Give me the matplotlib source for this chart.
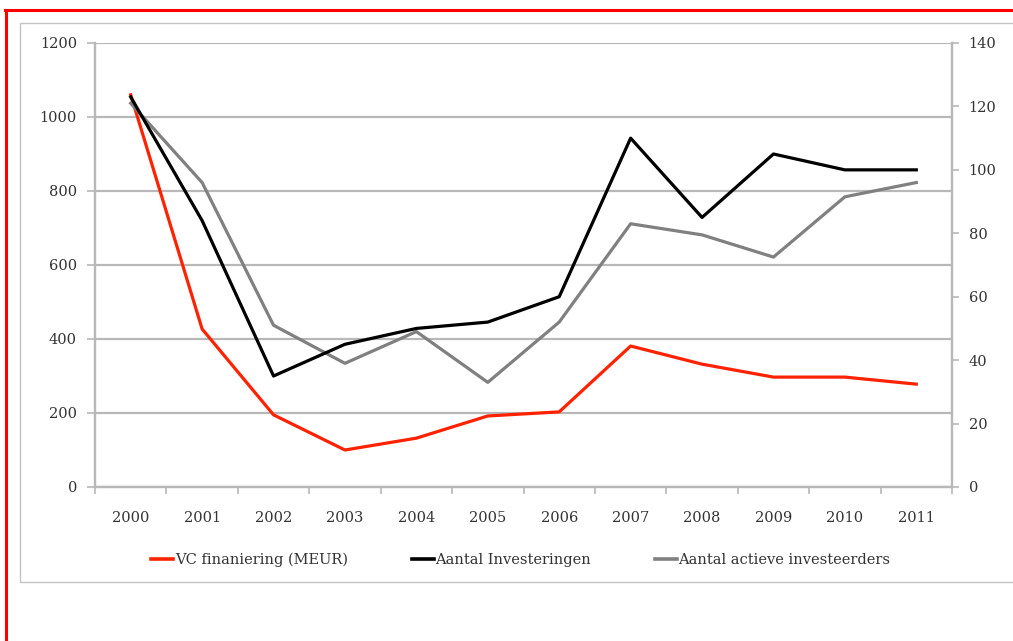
import matplotlib.pyplot as plt
from matplotlib.lines import Line2D
from matplotlib.patches import Rectangle

# data
jaren = ['2000', '2001', '2002', '2003', '2004', '2005',
         '2006', '2007', '2008', '2009', '2010', '2011']
vc_financiering = [1060, 427, 195, 100, 132, 192, 203, 381, 332, 297, 297, 278]  # MEUR, linker as
aantal_investeringen = [123, 84, 35, 45, 50, 52, 60, 110, 85, 105, 100, 100]    # rechter as
actieve_investeerders = [121, 96, 51, 39, 49, 33, 52, 83, 79.5, 72.5, 91.5, 96]  # rechter as

plt.rcParams['font.family'] = ['DejaVu Serif']
grijs = '#b8b8b8'
tekst = '#333333'
fs = 10.5

f = plt.figure(figsize=(10.13, 6.41), dpi=100)

# rand van de pagina
f.add_artist(Line2D([5/1013, 1], [1-10/641, 1-10/641], color='red', lw=2.2, transform=f.transFigure))
f.add_artist(Line2D([6/1013, 6/1013], [0, 1-10/641], color='red', lw=2.2, transform=f.transFigure))
f.add_artist(Rectangle((20/1013, 1-582/641), 1.0, (582-23)/641, fill=False,
                       edgecolor='#c4c4c4', lw=1.0, transform=f.transFigure))

ax1 = f.add_axes([95/1013, 1-487/641, (952-95)/1013, (487-43)/641])
ax2 = ax1.twinx()

x = list(range(len(jaren)))
ax1.plot(x, vc_financiering, color='#ff2200', lw=2.3, zorder=3)
ax2.plot(x, aantal_investeringen, color='black', lw=2.3, zorder=3)
ax2.plot(x, actieve_investeerders, color='#808080', lw=2.3, zorder=2)

ax1.set_ylim(0, 1200)
ax1.set_yticks(range(0, 1201, 200))
ax2.set_ylim(0, 140)
ax2.set_yticks(range(0, 141, 20))
ax1.set_xlim(-0.5, 11.5)

# tickstreepjes op de grenzen, labels in het midden
ax1.set_xticks([i - 0.5 for i in range(13)])
ax1.set_xticklabels([])
ax1.set_xticks(x, minor=True)
ax1.set_xticklabels(jaren, minor=True)
ax1.tick_params(axis='x', which='major', direction='out', length=5, color=grijs, width=1.2)
ax1.tick_params(axis='x', which='minor', length=0, pad=17, labelsize=fs, labelcolor=tekst)
ax1.tick_params(axis='y', direction='out', length=6, color=grijs, width=1.2, pad=7,
                labelsize=fs, labelcolor=tekst)
ax2.tick_params(axis='y', direction='out', length=5, color=grijs, width=1.2, pad=7,
                labelsize=fs, labelcolor=tekst)

ax1.grid(axis='y', color=grijs, lw=1.6)
ax1.set_axisbelow(True)
for ax in (ax1, ax2):
    for s in ax.spines.values():
        s.set_color(grijs)
        s.set_linewidth(1.6)
    ax.spines['top'].set_visible(False)

handles = [Line2D([], [], color='#ff2200', lw=2.6),
           Line2D([], [], color='black', lw=2.6),
           Line2D([], [], color='#808080', lw=2.6)]
ax1.legend(handles, ['VC finaniering (MEUR)', 'Aantal Investeringen', 'Aantal actieve investeerders'],
           loc='center', bbox_to_anchor=(0.497, -0.165), ncol=3, frameon=False,
           handlelength=1.5, handletextpad=0.1, columnspacing=4.4, fontsize=fs,
           labelcolor=tekst)

f.savefig('out.png', dpi=100)
